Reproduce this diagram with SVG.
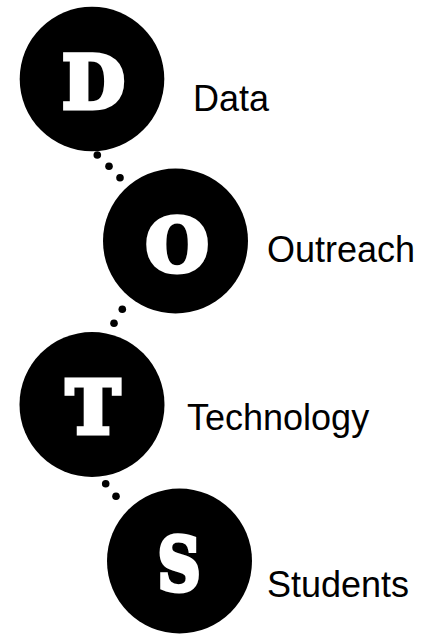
<svg xmlns="http://www.w3.org/2000/svg" width="429" height="634" viewBox="0 0 429 634">
<style>
.disc{fill:#000}
.letter{font-family:"DejaVu Serif",serif;font-weight:bold;font-size:72px;fill:#fff;stroke:#fff;stroke-width:5;stroke-linejoin:miter;text-anchor:middle}
.label{font-family:"Liberation Sans",Arial,sans-serif;font-size:36px;fill:#000}
.dot{fill:#000}
</style>
<rect width="429" height="634" fill="#fff"/>
<g id="connectors">
<circle class="dot" cx="97.3" cy="155" r="3.8"/>
<circle class="dot" cx="109" cy="166.3" r="3.8"/>
<circle class="dot" cx="120" cy="177.7" r="3.8"/>
<circle class="dot" cx="122.3" cy="309.3" r="3.8"/>
<circle class="dot" cx="114" cy="323.3" r="3.8"/>
<circle class="dot" cx="105.7" cy="483.7" r="3.8"/>
<circle class="dot" cx="116" cy="496.3" r="3.8"/>
</g>
<g id="node-D">
<circle class="disc" cx="92" cy="79" r="72.3"/>
<text class="letter" x="93.5" y="107.5">D</text>
<text class="label" x="193" y="111">Data</text>
</g>
<g id="node-O">
<circle class="disc" cx="175.5" cy="241" r="72.5"/>
<text class="letter" x="177" y="270.5">O</text>
<text class="label" x="267" y="262">Outreach</text>
</g>
<g id="node-T">
<circle class="disc" cx="92" cy="404.5" r="72.5"/>
<text class="letter" x="93" y="432.5">T</text>
<text class="label" x="187" y="430">Technology</text>
</g>
<g id="node-S">
<circle class="disc" cx="179.5" cy="561" r="72.5"/>
<text class="letter" transform="translate(179 589.5) scale(0.82 1)" x="0" y="0">S</text>
<text class="label" x="267" y="597">Students</text>
</g>
</svg>
